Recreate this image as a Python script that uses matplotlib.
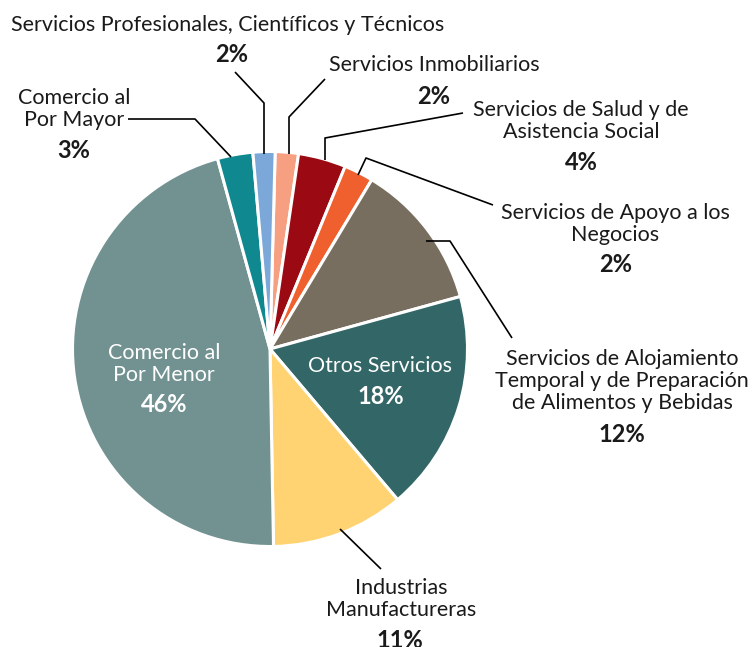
import matplotlib
matplotlib.use("Agg")
import matplotlib.pyplot as plt

plt.rcParams["font.family"] = ["Lato", "DejaVu Sans"]

# sectores, en el orden del grafico (sentido horario desde arriba)
sectores = [
    "Servicios Inmobiliarios",
    "Servicios de Salud y de\nAsistencia Social",
    "Servicios de Apoyo a los\nNegocios",
    "Servicios de Alojamiento\nTemporal y de Preparación\nde Alimentos y Bebidas",
    "Otros Servicios",
    "Industrias\nManufactureras",
    "Comercio al\nPor Menor",
    "Comercio al\nPor Mayor",
    "Servicios Profesionales, Científicos y Técnicos",
]
porcentajes = [1.9, 3.9, 2.4, 12.1, 18.1, 10.9, 46.0, 2.9, 1.8]
colores = ["#F7A081", "#9B0A12", "#F05F2E", "#786E60", "#336666",
           "#FFD272", "#729292", "#0F888F", "#7BA7D9"]

W, H = 755, 647


def P(x, y):
    # pixel coords (origin top-left) -> axes coords
    return x, H - y


fig = plt.figure(figsize=(W / 100, H / 100), dpi=100)
ax = fig.add_axes([0, 0, 1, 1])

ax.pie(porcentajes, colors=colores, startangle=88.5, counterclock=False,
       center=P(270, 349), radius=197.5,
       wedgeprops=dict(edgecolor="white", linewidth=2.2))
ax.set_xlim(0, W)
ax.set_ylim(0, H)
ax.set_aspect("equal")
ax.axis("off")

# posiciones de etiquetas: (nombre), (porcentaje), color
etiquetas = [
    ((434, 65), (434, 96), "#1a1a1a"),
    ((581, 121), (581, 163), "#1a1a1a"),
    ((615, 224), (616, 265), "#1a1a1a"),
    ((622, 381), (622, 434), "#1a1a1a"),
    ((380, 366), (381, 396), "white"),
    ((401, 599), (400, 640), "#1a1a1a"),
    ((164, 364), (164, 405), "white"),
    ((74, 109), (74, 150), "#1a1a1a"),
    ((228, 25), (232, 55), "#1a1a1a"),
]

total = sum(porcentajes)
for nombre, valor, (pn, pp, c) in zip(sectores, porcentajes, etiquetas):
    ax.text(*P(*pn), nombre, ha="center", va="center", fontsize=15.5,
            color=c, linespacing=1.1)
    ax.text(*P(*pp), f"{round(valor / total * 100)}%", ha="center",
            va="center", fontsize=17, fontweight="bold", color=c)

# lineas guia
guias = [
    [(235, 72), (264, 103), (264, 154)],
    [(325, 79), (289, 117), (289, 154)],
    [(325, 160), (325, 138), (463, 113)],
    [(358, 175), (366, 158), (493, 205)],
    [(426, 241), (450, 241), (512, 338)],
    [(340, 529), (381, 569)],
    [(128, 119), (195, 119), (231, 157)],
]
for g in guias:
    xs = [p[0] for p in g]
    ys = [H - p[1] for p in g]
    ax.plot(xs, ys, color="black", lw=1.2, solid_capstyle="butt")

fig.savefig("out.png", dpi=100, facecolor="white")
